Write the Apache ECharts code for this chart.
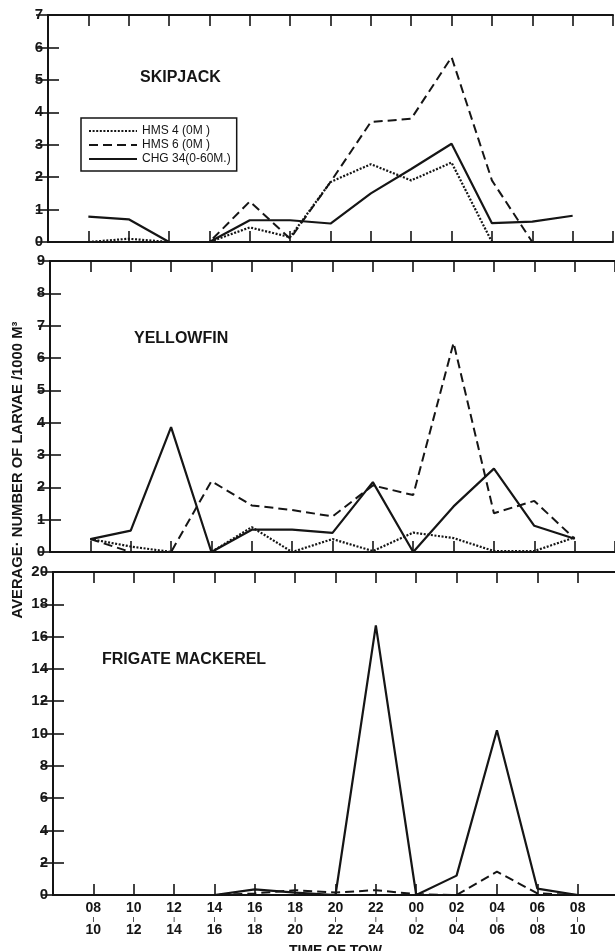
<!DOCTYPE html>
<html>
<head>
<meta charset="utf-8">
<script src="https://cdn.jsdelivr.net/npm/echarts@6/dist/echarts.min.js"></script>
<style>
html, body { margin: 0; background: #fff; }
#chart { width: 615px; height: 951px; }
</style>
</head>
<body>
<div id="chart"></div>
<script>
// time of tow, start hour / end hour
const towStart = ["08", "10", "12", "14", "16", "18", "20", "22", "00", "02", "04", "06", "08"];
const towEnd = ["10", "12", "14", "16", "18", "20", "22", "24", "02", "04", "06", "08", "10"];
const netNames = ["HMS 4 (0M )", "HMS 6 (0M )", "CHG 34(0-60M.)"];

// skipjack
const skipjackHms4 = [0, 0.1, 0, 0, 0.45, 0.15, 1.85, 2.4, 1.9, 2.45, 0, 0, 0];
const skipjackHms6 = [0, 0, 0, 0, 1.25, 0.1, 1.85, 3.7, 3.8, 5.7, 1.9, 0, 0];
const skipjackChg34 = [0.78, 0.7, 0, 0, 0.67, 0.67, 0.57, 1.5, 2.25, 3.03, 0.58, 0.63, 0.81];

// yellowfin
const yellowfinHms4 = [0.4, 0.17, 0, 0, 0.77, 0, 0.4, 0.03, 0.6, 0.43, 0.03, 0.03, 0.45];
const yellowfinHms6 = [0.4, 0, 0, 2.19, 1.44, 1.3, 1.1, 2.06, 1.76, 6.47, 1.2, 1.58, 0.41];
const yellowfinChg34 = [0.4, 0.66, 3.86, 0, 0.69, 0.69, 0.59, 2.16, 0, 1.41, 2.58, 0.81, 0.41];

// frigate mackerel
const frigateHms4 = [0, 0, 0, 0, 0, 0, 0, 0, 0, 0, 0, 0, 0];
const frigateHms6 = [0, 0, 0, 0, 0.1, 0.3, 0.15, 0.3, 0.05, 0, 1.45, 0.1, 0];
const frigateChg34 = [0, 0, 0, 0, 0.35, 0.15, 0, 16.7, 0, 1.2, 10.2, 0.4, 0];

const yMax = [7, 9, 20];
const yStep = [1, 1, 2];
const panelTitles = ["SKIPJACK", "YELLOWFIN", "FRIGATE MACKEREL"];

const ink = "#151515";
const font = "Liberation Sans";

const panels = [
    { grid: { left: 48, top: 15, width: 565, height: 227 }, title: [140, 70], data: [skipjackHms4, skipjackHms6, skipjackChg34] },
    { grid: { left: 50, top: 261, width: 565, height: 291 }, title: [134, 331], data: [yellowfinHms4, yellowfinHms6, yellowfinChg34] },
    { grid: { left: 53, top: 572, width: 565, height: 323 }, title: [102, 652], data: [frigateHms4, frigateHms6, frigateChg34] },
];

const lineTypes = [
    { type: [2, 1.6], width: 2.2 },
    { type: [9, 5], width: 2 },
    { type: "solid", width: 2.2 },
];

let toPoints = (vals) => vals.map((v, i) => [i + 1, v]);

let xAxes = [];
let yAxes = [];
let series = [];

panels.forEach((p, g) => {
    let last = g === panels.length - 1;
    ["bottom", "top"].forEach((pos) => {
        xAxes.push({
            type: "value",
            gridIndex: g,
            position: pos,
            min: 0,
            max: 14,
            interval: 1,
            splitLine: { show: false },
            axisLine: { show: true, onZero: false, lineStyle: { color: ink, width: 2 } },
            axisTick: { inside: true, length: 11, lineStyle: { color: ink, width: 1.6 } },
            axisLabel: last && pos === "bottom" ? {
                margin: 7,
                formatter: (v) => (v >= 1 && v <= 13 ? "{a|" + towStart[v - 1] + "}\n{b|I}\n{a|" + towEnd[v - 1] + "}" : ""),
                rich: {
                    a: { fontSize: 14, fontWeight: "bold", fontFamily: font, color: ink, lineHeight: 13 },
                    b: { fontSize: 8, fontFamily: font, color: ink, lineHeight: 9 },
                },
            } : { show: false },
            name: last && pos === "bottom" ? "TIME OF TOW" : "",
            nameLocation: "middle",
            nameGap: 49,
            nameTextStyle: { fontSize: 14, fontWeight: "bold", fontFamily: font, color: ink },
        });
    });
    ["left", "right"].forEach((pos) => {
        yAxes.push({
            type: "value",
            gridIndex: g,
            position: pos,
            min: 0,
            max: yMax[g],
            interval: yStep[g],
            splitLine: { show: false },
            axisLine: { show: true, lineStyle: { color: ink, width: 2 } },
            axisTick: { inside: true, length: pos === "left" ? 11 : 12, lineStyle: { color: ink, width: 1.6 } },
            axisLabel: pos === "left" ? {
                margin: 5,
                fontSize: 15,
                fontWeight: "bold",
                fontFamily: font,
                color: ink,
            } : { show: false },
        });
    });
    p.data.forEach((vals, k) => {
        series.push({
            name: netNames[k],
            type: "line",
            xAxisIndex: g * 2,
            yAxisIndex: g * 2,
            data: toPoints(vals),
            symbol: "none",
            lineStyle: { color: ink, width: lineTypes[k].width, type: lineTypes[k].type },
            itemStyle: { color: ink },
            z: 3 - k,
        });
    });
});

let chart = echarts.init(document.getElementById("chart"), null, { renderer: "canvas" });
chart.setOption({
    animation: false,
    backgroundColor: "#fff",
    grid: panels.map((p) => Object.assign({ outerBoundsMode: "none", containLabel: false }, p.grid)),
    xAxis: xAxes,
    yAxis: yAxes,
    series: series,
    title: panels.map((p, g) => ({
        text: panelTitles[g],
        left: p.title[0],
        top: p.title[1],
        padding: 0,
        textStyle: { fontSize: 16, fontWeight: "bold", fontFamily: font, color: ink },
    })),
    legend: {
        data: netNames,
        orient: "vertical",
        left: 81,
        top: 118,
        padding: [6, 6, 5, 7],
        itemWidth: 48,
        itemHeight: 14,
        itemGap: 0,
        selectedMode: false,
        borderColor: ink,
        borderWidth: 1.5,
        itemStyle: { opacity: 0 },
        textStyle: { fontSize: 12, color: ink, fontFamily: font, lineHeight: 14 },
    },
    graphic: [{
        type: "text",
        x: 18,
        y: 470,
        rotation: Math.PI / 2,
        style: {
            text: "AVERAGE· NUMBER OF LARVAE /1000 M³",
            font: "bold 14.8px 'Liberation Sans'",
            fill: ink,
            textAlign: "center",
            textVerticalAlign: "middle",
        },
    }],
});
</script>
</body>
</html>
